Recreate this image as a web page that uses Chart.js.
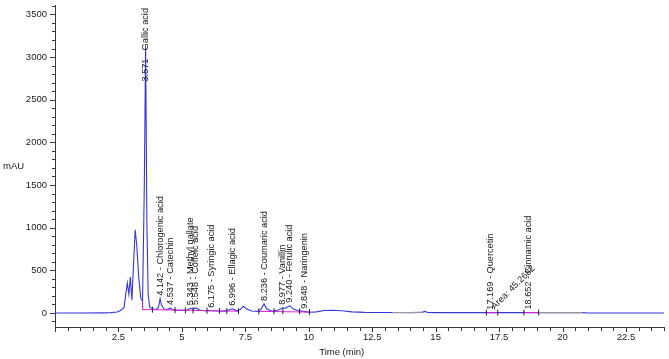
<!DOCTYPE html>
<html>
<head>
<meta charset="utf-8">
<script src="https://cdn.jsdelivr.net/npm/chart.js@4"></script>
<style>
html,body{margin:0;padding:0;background:#fff;}
#wrap{width:669px;height:359px;position:relative;}
</style>
</head>
<body>
<div id="wrap"><canvas id="c" width="669" height="359"></canvas></div>
<script>
// ---- data ----
const timeMin = [0, 1.0, 1.9, 2.2, 2.45, 2.6, 2.72, 2.78, 2.85, 2.91, 2.97, 3.03, 3.1, 3.16, 3.22, 3.3, 3.38, 3.45, 3.52, 3.571, 3.62, 3.67, 3.73, 3.85, 4.0, 4.08, 4.142, 4.2, 4.3, 4.45, 4.537, 4.62, 4.8, 5.0, 5.2, 5.343, 5.45, 5.548, 5.7, 5.9, 6.175, 6.4, 6.7, 6.996, 7.15, 7.3, 7.42, 7.55, 7.75, 8.0, 8.12, 8.236, 8.35, 8.55, 8.8, 8.977, 9.1, 9.24, 9.4, 9.6, 9.848, 10.05, 10.3, 10.6, 10.9, 11.3, 11.7, 12.2, 13.0, 14.0, 14.45, 14.57, 14.7, 15.0, 17.0, 19.0, 20.8, 21.0, 24];
const signalMAU = [0, 0, 1, 3, 10, 30, 65, 200, 350, 220, 420, 150, 600, 975, 800, 420, 170, 135, 1500, 3120, 1100, 220, 70, 45, 40, 70, 166, 90, 45, 40, 58, 40, 32, 30, 35, 55, 45, 58, 35, 25, 25, 22, 20, 48, 25, 40, 78, 45, 22, 18, 45, 105, 45, 20, 35, 60, 55, 85, 45, 25, 15, 8, 12, 28, 32, 25, 12, 6, 5, 4, 6, 18, 5, 3, 3, 4, 3, 0, 0];

const grayTime = [13.3, 14.45, null, 19.06, 20.8];
const grayMAU  = [5, 5, null, 4, 3];

const baseTime = [3.45, 3.45, 7.23, null, 8.03, 10.03, null, 17.0, 17.45, null, 18.48, 19.06];
const baseMAU  = [135, 40, 20, null, 18, 10, null, 3, 3, null, 4, 4];

const markTime = [3.84, 4.73, 5.14, 5.44, 5.99, 6.48, 6.77, 7.23, 8.03, 8.63, 8.98, 9.64, 10.03, 17.0, 17.45, 18.48, 19.06];
const markMAU  = [38, 33, 30, 30, 26, 24, 22, 20, 18, 20, 22, 18, 10, 3, 3, 4, 4];

const peakTimes   = [3.571, 4.142, 4.537, 5.343, 5.548, 6.175, 6.996, 8.236, 8.977, 9.240, 9.848, 17.169, 18.652];
const peakNames   = ["Gallic acid", "Chlorogenic acid", "Catechin", "Methyl gallate", "Coffeic acid", "Syringic acid", "Ellagic acid", "Coumaric acid", "Vanillin", "Ferulic acid", "Naringenin", "Quercetin", "Cinnamic acid"];
const peakHeights = [3120, 166, 58, 55, 58, 25, 48, 105, 60, 85, 15, 3, 4];
const areaText = "Area: 45.2682";

const yMin = -165, yMax = 3610, yStep = 100, yLabelStep = 500;
const xMin = 0, xMax = 24, xStep = 0.5, xLabelStep = 2.5;

// ---- build ----
function pts(xs, ys){ return xs.map((x,i)=> x===null ? {x: NaN, y: null} : {x:x, y:ys[i]}); }

const FONT = '"Liberation Sans", Arial, sans-serif';
const TXT = '#1a1a1a';
const AX = '#3a3a3a';

function zeroPad(s){ s.paddingLeft = 0; s.paddingRight = 0; s.paddingTop = 0; s.paddingBottom = 0; }

const annot = {
  id: 'annot',
  afterDatasetsDraw(chart){
    const ctx = chart.ctx, xs = chart.scales.x, ys = chart.scales.y, ca = chart.chartArea;
    ctx.save();
    ctx.strokeStyle = AX; ctx.lineWidth = 1;
    ys.ticks.forEach(t=>{
      const p = Math.round(ys.getPixelForValue(t.value)) + 0.5;
      const len = (t.value % yLabelStep === 0) ? 5 : 3;
      ctx.beginPath(); ctx.moveTo(ca.left - len, p); ctx.lineTo(ca.left, p); ctx.stroke();
    });
    xs.ticks.forEach(t=>{
      const p = Math.round(xs.getPixelForValue(t.value)) + 0.5;
      const len = (Math.abs(t.value % xLabelStep) < 1e-9) ? 5 : 4;
      ctx.beginPath(); ctx.moveTo(p, ca.bottom); ctx.lineTo(p, ca.bottom + len); ctx.stroke();
    });
    ctx.fillStyle = TXT;
    ctx.font = '9.2px ' + FONT;
    ctx.textBaseline = 'middle';
    ctx.textAlign = 'left';
    peakTimes.forEach((t,i)=>{
      const txt = t.toFixed(3) + ' - ' + peakNames[i];
      const w = ctx.measureText(txt).width;
      const px = xs.getPixelForValue(t);
      let py = ys.getPixelForValue(peakHeights[i]) - 3;
      py = Math.max(py, ca.top + w + 3);
      ctx.save(); ctx.translate(px, py); ctx.rotate(-Math.PI/2); ctx.fillText(txt, 0, 0); ctx.restore();
    });
    {
      const px = xs.getPixelForValue(peakTimes[11]) + 4;
      const py = ys.getPixelForValue(peakHeights[11]) - 3;
      ctx.save(); ctx.translate(px, py); ctx.rotate(-Math.PI/4); ctx.textBaseline='alphabetic'; ctx.fillText(areaText, 0, 0); ctx.restore();
    }
    ctx.font = '9.5px ' + FONT;
    ctx.textAlign = 'left'; ctx.textBaseline = 'middle';
    ctx.fillText('mAU', 3, (ca.top + ca.bottom)/2);
    ctx.textAlign = 'center';
    ctx.fillText('Time (min)', xs.getPixelForValue(11.3), 352);
    ctx.restore();
  }
};

new Chart(document.getElementById('c'), {
  type: 'line',
  data: {
    datasets: [
      { label:'marks', data: pts(markTime, markMAU), showLine:false, pointStyle:'line', rotation:90, pointRadius:3, pointBorderColor:'#222', pointBorderWidth:1, order:0 },
      { label:'baseline', data: pts(baseTime, baseMAU), borderColor:'#e020e0', borderWidth:1, pointRadius:0, spanGaps:false, order:1 },
      { label:'gray', data: pts(grayTime, grayMAU), borderColor:'#9a9a9a', borderWidth:1.2, pointRadius:0, spanGaps:false, order:2 },
      { label:'signal', data: pts(timeMin, signalMAU), borderColor:'#3737d8', borderWidth:1.1, pointRadius:0, tension:0, order:3 }
    ]
  },
  options: {
    responsive:false, animation:false, devicePixelRatio:1,
    layout:{padding:0},
    plugins:{legend:{display:false}, tooltip:{enabled:false}},
    scales:{
      x:{
        type:'linear', min:xMin, max:xMax,
        afterBuildTicks(s){ const a=[]; for(let v=xMin; v<=xMax+1e-9; v+=xStep) a.push({value:Math.round(v*10)/10}); s.ticks=a; },
        afterFit(s){ s.height = 32; zeroPad(s); },
        grid:{display:false, drawTicks:false, tickLength:0},
        border:{display:true, color:AX, width:1},
        ticks:{autoSkip:false, maxRotation:0, padding:5, color:TXT, font:{family:FONT, size:9.5},
          callback:(v)=> (v>0 && Math.abs(v % xLabelStep) < 1e-9) ? String(v) : ''}
      },
      y:{
        type:'linear', min:yMin, max:yMax,
        afterBuildTicks(s){ const a=[]; for(let v=-100; v<=yMax; v+=yStep) a.push({value:v}); s.ticks=a; },
        afterFit(s){ s.width = 55; zeroPad(s); },
        grid:{display:false, drawTicks:false, tickLength:0},
        border:{display:true, color:AX, width:1},
        ticks:{autoSkip:false, padding:8, color:TXT, font:{family:FONT, size:9.5},
          callback:(v)=> (v % yLabelStep === 0) ? String(v) : ''}
      }
    }
  },
  plugins:[annot]
});
</script>
</body>
</html>
